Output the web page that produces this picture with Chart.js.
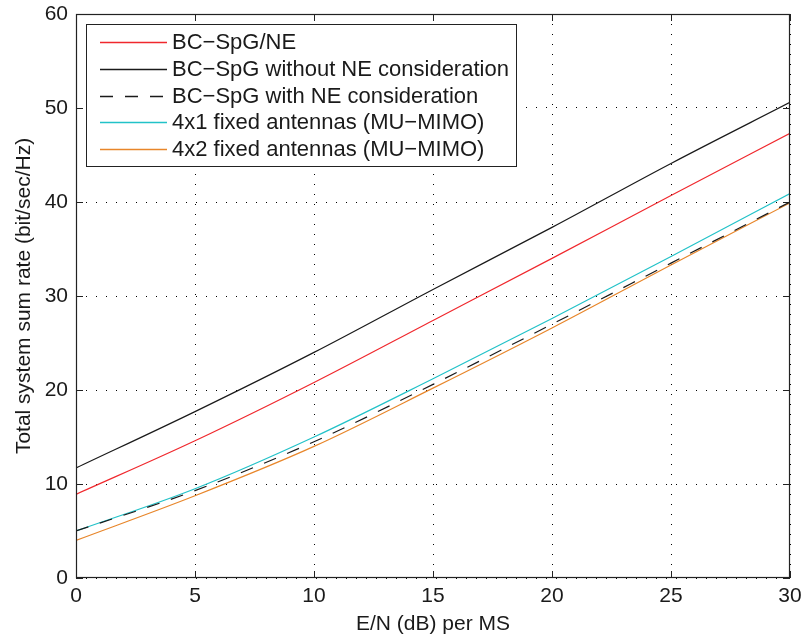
<!DOCTYPE html>
<html>
<head>
<meta charset="utf-8">
<script src="https://cdn.jsdelivr.net/npm/chart.js@4/dist/chart.umd.min.js"></script>
<style>
  html, body { margin: 0; padding: 0; background: #fff; }
  #wrap { width: 806px; height: 638px; }
</style>
</head>
<body>
<div id="wrap"><canvas id="myLineChart" width="806" height="638"></canvas></div>
<script>
// datos
const snrValues = [0, 5, 10, 15, 20, 25, 30];
const spgNE = [8.9, 14.6, 20.8, 27.4, 34.0, 40.7, 47.3];
const spgWithoutNE = [11.7, 17.7, 24.0, 30.7, 37.3, 44.1, 50.6];
const spgWithNE = [5.0, 9.3, 14.5, 20.6, 27.0, 33.5, 40.0];
const fixed4x1 = [5.0, 9.5, 15.0, 21.2, 27.6, 34.2, 40.9];
const fixed4x2 = [4.0, 8.75, 14.0, 20.2, 26.6, 33.3, 39.9];
const seriesNames = [
    'BC\u2212SpG/NE',
    'BC\u2212SpG without NE consideration',
    'BC\u2212SpG with NE consideration',
    '4x1 fixed antennas (MU\u2212MIMO)',
    '4x2 fixed antennas (MU\u2212MIMO)'
];
const xTicks = [0, 5, 10, 15, 20, 25, 30];
const yTicks = [0, 10, 20, 30, 40, 50, 60];

const FONT = 'Liberation Sans, Arial, Helvetica, sans-serif';

function toPoints(values) {
    return snrValues.map((x, i) => ({ x: x, y: values[i] }));
}

const seriesList = [
    { label: seriesNames[0], values: spgNE, color: '#f0282d', dash: [] },
    { label: seriesNames[1], values: spgWithoutNE, color: '#1a1a1a', dash: [] },
    { label: seriesNames[2], values: spgWithNE, color: '#1a1a1a', dash: [13, 12] },
    { label: seriesNames[3], values: fixed4x1, color: '#22c2c8', dash: [] },
    { label: seriesNames[4], values: fixed4x2, color: '#e8862a', dash: [] }
];

// marco, ticks hacia dentro y leyenda estilo matlab
const matlabBox = {
    id: 'matlabBox',
    afterDraw(chart) {
        const c = chart.ctx;
        const a = chart.chartArea;
        const xs = chart.scales.x, ys = chart.scales.y;
        c.save();
        c.strokeStyle = '#222';
        c.lineWidth = 1.2;
        c.setLineDash([]);
        c.strokeRect(a.left + 0.5, a.top + 0.5, a.right - a.left - 1, a.bottom - a.top - 1);
        c.lineWidth = 1;
        c.beginPath();
        xTicks.forEach(t => {
            const px = Math.round(xs.getPixelForValue(t)) + 0.5;
            c.moveTo(px, a.bottom); c.lineTo(px, a.bottom - 7);
            c.moveTo(px, a.top); c.lineTo(px, a.top + 7);
        });
        yTicks.forEach(t => {
            const py = Math.round(ys.getPixelForValue(t)) + 0.5;
            c.moveTo(a.left, py); c.lineTo(a.left + 7, py);
            c.moveTo(a.right, py); c.lineTo(a.right - 7, py);
        });
        c.stroke();

        // leyenda
        const lx = a.left + 10, ly = a.top + 10, lw = 430, lh = 142;
        c.fillStyle = '#fff';
        c.fillRect(lx, ly, lw, lh);
        c.strokeStyle = '#222';
        c.strokeRect(lx + 0.5, ly + 0.5, lw, lh);
        c.font = '22px ' + FONT;
        c.textBaseline = 'middle';
        c.textAlign = 'left';
        chart.data.datasets.forEach((ds, i) => {
            const y = ly + 18 + i * 26.8;
            c.strokeStyle = ds.borderColor;
            c.lineWidth = 1.3;
            c.setLineDash(ds.borderDash || []);
            c.beginPath();
            c.moveTo(lx + 14, Math.round(y) + 0.5);
            c.lineTo(lx + 81, Math.round(y) + 0.5);
            c.stroke();
            c.setLineDash([]);
            c.fillStyle = '#1a1a1a';
            c.fillText(ds.label, lx + 86, y + 1);
        });
        c.restore();
    }
};

const ctx = document.getElementById('myLineChart');
new Chart(ctx, {
    type: 'line',
    data: {
        datasets: seriesList.map(s => ({
            label: s.label,
            data: toPoints(s.values),
            borderColor: s.color,
            backgroundColor: s.color,
            borderDash: s.dash,
            borderWidth: 1.2,
            pointRadius: 0,
            cubicInterpolationMode: 'monotone',
            fill: false
        }))
    },
    options: {
        responsive: false,
        animation: false,
        layout: { padding: { top: 14, right: 16, left: 0, bottom: 0 } },
        plugins: {
            legend: { display: false },
            tooltip: { enabled: false }
        },
        scales: {
            x: {
                type: 'linear',
                min: 0,
                max: 30,
                afterBuildTicks: scale => { scale.ticks = xTicks.map(v => ({ value: v })); },
                afterFit: scale => { scale.height = 60; scale.paddingLeft = 0; scale.paddingRight = 0; },
                ticks: { color: '#1a1a1a', font: { family: FONT, size: 21 }, padding: 6, maxRotation: 0 },
                grid: { color: '#000', lineWidth: 1, drawTicks: false },
                border: { display: false, dash: [1, 9] },
                title: { display: true, text: 'E/N (dB) per MS', color: '#1a1a1a', font: { family: FONT, size: 21 }, padding: { top: 0, bottom: 1 } }
            },
            y: {
                type: 'linear',
                min: 0,
                max: 60,
                afterBuildTicks: scale => { scale.ticks = yTicks.map(v => ({ value: v })); },
                afterFit: scale => { scale.width = 76; scale.paddingTop = 0; scale.paddingBottom = 0; },
                ticks: { color: '#1a1a1a', font: { family: FONT, size: 21 }, padding: 8 },
                grid: { color: '#000', lineWidth: 1, drawTicks: false },
                border: { display: false, dash: [1, 9] },
                title: { display: true, text: 'Total system sum rate (bit/sec/Hz)', color: '#1a1a1a', font: { family: FONT, size: 21 }, padding: { top: 12, bottom: 0 } }
            }
        }
    },
    plugins: [matlabBox]
});
</script>
</body>
</html>
